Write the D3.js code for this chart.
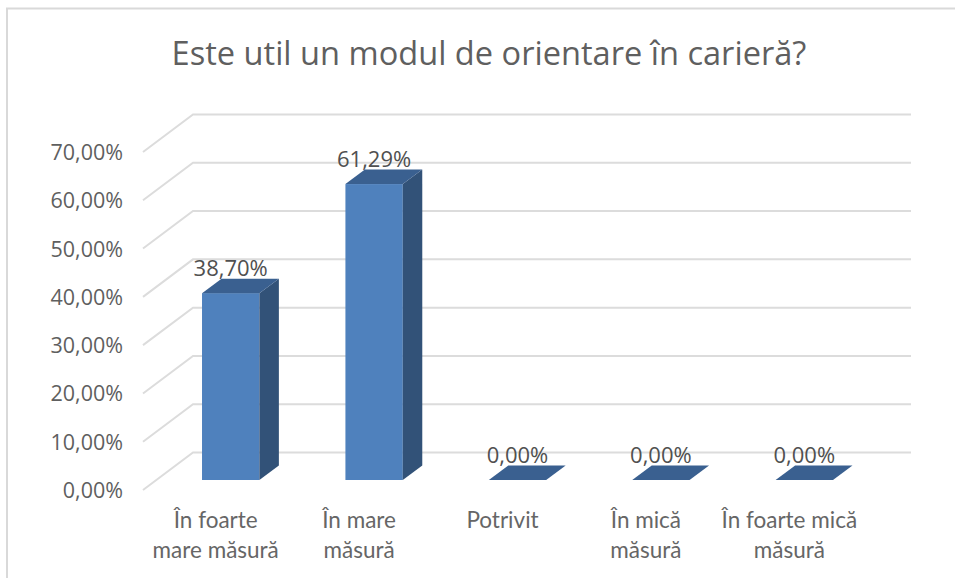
<!DOCTYPE html>
<html>
<head>
<meta charset="utf-8">
<script src="https://cdn.jsdelivr.net/npm/d3@7"></script>
<style>
html, body { margin: 0; padding: 0; background: #fff; }
svg { display: block; }
</style>
</head>
<body>
<div id="chart"></div>
<script>
var categories = [["În foarte", "mare măsură"], ["În mare", "măsură"], ["Potrivit"], ["În mică", "măsură"], ["În foarte mică", "măsură"]];
var values = [38.70, 61.29, 0, 0, 0];
var valueLabels = ["38,70%", "61,29%", "0,00%", "0,00%", "0,00%"];
var ticks = [0, 10, 20, 30, 40, 50, 60, 70];
var tickLabels = ["0,00%", "10,00%", "20,00%", "30,00%", "40,00%", "50,00%", "60,00%", "70,00%"];
var title = "Este util un modul de orientare în carieră?";

var width = 955, height = 578;
var svg = d3.select("#chart").append("svg")
    .attr("width", width)
    .attr("height", height);

// frame of the chart area
svg.append("path")
    .attr("d", "M7,578V8.5H955")
    .attr("fill", "none")
    .attr("stroke", "#d9d9d9")
    .attr("stroke-width", 2);

var y = d3.scaleLinear().domain([0, 70]).range([490, 152]);
var x = d3.scaleBand().domain(d3.range(categories.length)).range([159, 876]).paddingInner(0.6).paddingOuter(0.3);

// depth offsets of the fake 3d floor and of the bars
var wallDx = 50, wallDy = -37.5;
var barDx = 19.5, barDy = -14.5, barInsetDy = -10;

var grid = svg.append("g").attr("fill", "none").attr("stroke", "#dcdcdc").attr("stroke-width", 2);
grid.selectAll("path")
    .data(ticks)
    .enter().append("path")
    .attr("d", function(d) {
      return "M143," + y(d) + "L" + (143 + wallDx) + "," + (y(d) + wallDy) + "H911";
    });

svg.append("g").selectAll("text")
    .data(ticks)
    .enter().append("text")
    .attr("x", 123)
    .attr("y", function(d) { return y(d) + 8; })
    .attr("text-anchor", "end")
    .attr("font-family", "Open Sans")
    .attr("font-size", 21.5)
    .attr("fill", "#5f5f5f")
    .text(function(d, i) { return tickLabels[i]; });

var bars = svg.append("g").selectAll("g")
    .data(values)
    .enter().append("g");

// front face
bars.append("rect")
    .attr("x", function(d, i) { return x(i); })
    .attr("y", function(d) { return y(d) + barInsetDy; })
    .attr("width", x.bandwidth())
    .attr("height", function(d) { return y(0) - y(d); })
    .attr("fill", "#4f81bd");

// side face
bars.append("path")
    .attr("d", function(d, i) {
      var r = x(i) + x.bandwidth(), t = y(d) + barInsetDy, b = y(0) + barInsetDy;
      return "M" + r + "," + t + "l" + barDx + "," + barDy + "V" + (b + barDy) + "L" + r + "," + b + "Z";
    })
    .attr("fill", "#325278");

// top face
bars.append("path")
    .attr("d", function(d, i) {
      var l = x(i), t = y(d) + barInsetDy;
      return "M" + l + "," + t + "l" + barDx + "," + barDy + "h" + x.bandwidth() + "l" + (-barDx) + "," + (-barDy) + "Z";
    })
    .attr("fill", "#3a6090");

bars.append("text")
    .attr("x", function(d, i) { return x(i) + x.bandwidth() / 2; })
    .attr("y", function(d) { return y(d) + barInsetDy + barDy - 3; })
    .attr("text-anchor", "middle")
    .attr("font-family", "Open Sans")
    .attr("font-size", 22)
    .attr("fill", "#505050")
    .text(function(d, i) { return valueLabels[i]; });

var catLabels = svg.append("g").selectAll("text")
    .data(categories)
    .enter().append("text")
    .attr("text-anchor", "middle")
    .attr("font-family", "Lato")
    .attr("font-size", 22.5)
    .attr("fill", "#666666");

catLabels.selectAll("tspan")
    .data(function(d, i) { return d.map(function(t) { return { t: t, i: i }; }); })
    .enter().append("tspan")
    .attr("x", function(d) { return x(d.i) + x.bandwidth() / 2 - 15; })
    .attr("y", function(d, j) { return 528 + j * 30; })
    .text(function(d) { return d.t; });

svg.append("text")
    .attr("x", 489)
    .attr("y", 65)
    .attr("text-anchor", "middle")
    .attr("font-family", "Open Sans")
    .attr("font-size", 32.6)
    .attr("fill", "#5f5f5f")
    .text(title);
</script>
</body>
</html>
